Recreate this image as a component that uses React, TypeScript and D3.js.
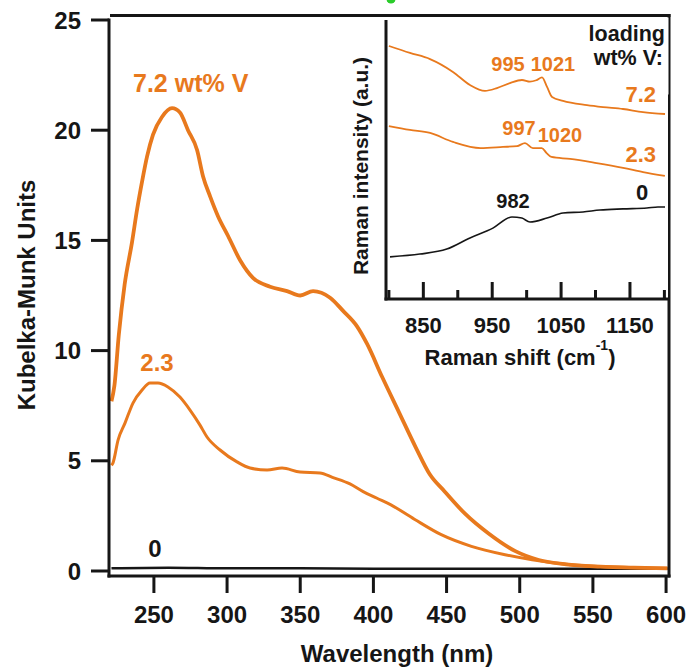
import React from "react";
import * as d3 from "d3";

// ---------- Main chart data (Kubelka-Munk vs wavelength) ----------
const wl72 = [221, 223, 226, 230, 235, 238.5, 242, 245.3, 249.4, 255.5, 262.4, 267.8, 273.3, 279.5, 283.6, 288.4, 293.8, 300.7, 308.9, 317.7, 329.4, 341, 350, 358.8, 370.4, 379.3, 388.8, 395.7, 406, 417.5, 429, 438.4, 448.8, 462.6, 478.7, 497, 513, 531.7, 555, 578, 601];
const km72 = [7.7, 8.4, 10.7, 13.0, 14.9, 16.4, 17.7, 18.8, 19.8, 20.6, 21.0, 20.8, 20.0, 19.1, 17.9, 17.0, 16.1, 15.2, 14.1, 13.3, 12.9, 12.7, 12.5, 12.7, 12.4, 11.8, 11.1, 10.3, 8.8, 7.2, 5.6, 4.4, 3.6, 2.6, 1.7, 0.9, 0.5, 0.3, 0.2, 0.15, 0.12];

const wl23 = [221, 222, 225.5, 230.3, 235.7, 241.9, 247.3, 252.8, 259.6, 267.8, 274.7, 281.5, 286.3, 295.2, 306.8, 315.7, 327.3, 337.6, 349.9, 363.5, 372, 384, 393, 402.5, 412, 428, 446, 467, 490, 508.5, 531.7, 555, 578, 601];
const km23 = [4.8, 4.9, 5.94, 6.72, 7.62, 8.21, 8.53, 8.53, 8.35, 7.89, 7.3, 6.62, 6.08, 5.49, 4.95, 4.67, 4.58, 4.67, 4.49, 4.45, 4.25, 3.95, 3.6, 3.3, 3.0, 2.35, 1.66, 1.12, 0.74, 0.51, 0.31, 0.2, 0.15, 0.13];

const wl0 = [221, 260, 300, 350, 400, 450, 500, 550, 601];
const km0 = [0.12, 0.15, 0.12, 0.13, 0.1, 0.1, 0.1, 0.1, 0.1];

const xTicksMain = [250, 300, 350, 400, 450, 500, 550, 600];
const yTicksMain = [0, 5, 10, 15, 20, 25];

// ---------- Inset data (Raman) ----------
const rs72 = [800, 830.6, 859.7, 893, 917.7, 939.5, 956.9, 975.8, 993.2, 1004.8, 1014, 1022.3, 1029.6, 1036.9, 1052.8, 1087.6, 1110.9, 1139.9, 1168.9, 1200.9];
const ri72 = [90.7, 88.2, 86.0, 81.4, 76.7, 74.6, 75.6, 77.4, 78.5, 77.9, 78.4, 79.4, 76.0, 72.4, 71.0, 69.5, 68.8, 68.1, 67.0, 66.3];

const rs23 = [800, 830.6, 859.7, 893, 933, 965.6, 986, 997.6, 1009, 1021.8, 1029, 1036, 1063, 1101.6, 1140, 1169, 1200.7];
const ri23 = [62.0, 60.6, 59.5, 56.3, 54.1, 54.5, 54.8, 55.9, 54.1, 54.1, 52.3, 50.9, 50.2, 48.7, 47.0, 45.5, 44.1];

const rs0 = [801.6, 845, 884, 917.7, 951, 978.7, 993, 1004.8, 1029.5, 1052.8, 1081.8, 1106.5, 1140, 1174.6, 1190.6, 1200.9];
const ri0 = [15.1, 16.1, 17.9, 21.9, 25.4, 29.4, 29.0, 27.6, 29.0, 30.8, 31.2, 31.9, 32.3, 32.6, 33.0, 33.0];

const xTicksInset = [800, 850, 900, 950, 1000, 1050, 1100, 1150, 1200];
const xTickLabelsInset = [850, 950, 1050, 1150];

const ORANGE = "#E8791D";
const BLACK = "#161616";
const FONT = "'Liberation Sans', Arial, Helvetica, sans-serif";

export default function App() {
  const W = 693, H = 669;
  const x = d3.scaleLinear().domain([220, 602]).range([110, 669]);
  const y = d3.scaleLinear().domain([0, 25]).range([571, 20]);
  const xi = d3.scaleLinear().domain([800, 1200]).range([388.9, 664.4]);
  const yi = d3.scaleLinear().domain([0, 100]).range([299, 20]);

  const mainLine = d3
    .line<[number, number]>()
    .x((d) => x(d[0]))
    .y((d) => y(d[1]))
    .curve(d3.curveMonotoneX);
  const insetLine = d3
    .line<[number, number]>()
    .x((d) => xi(d[0]))
    .y((d) => yi(d[1]))
    .curve(d3.curveMonotoneX);

  const zip = (a: number[], b: number[]) => a.map((v, i) => [v, b[i]] as [number, number]);

  return (
    <svg
      width={W}
      height={H}
      style={{ position: "absolute", left: 0, top: 0, background: "#fff" }}
      fontFamily={FONT}
      fontWeight="bold"
    >
      <rect x={0} y={0} width={W} height={H} fill="#fff" />
      {/* partial green glyph at the top edge */}
      <circle cx={391} cy={-1} r={4.5} fill="#2bcc2b" />

      {/* main curves */}
      <path d={mainLine(zip(wl0, km0)) || ""} fill="none" stroke={BLACK} strokeWidth={2.5} />
      <path d={mainLine(zip(wl23, km23)) || ""} fill="none" stroke={ORANGE} strokeWidth={3} />
      <path d={mainLine(zip(wl72, km72)) || ""} fill="none" stroke={ORANGE} strokeWidth={3.8} />

      {/* main frame and axes */}
      <line x1={110} x2={670.5} y1={15.5} y2={15.5} stroke={BLACK} strokeWidth={3} />
      <line x1={669} x2={669} y1={14} y2={577.5} stroke={BLACK} strokeWidth={3} />
      <line x1={109} x2={109} y1={18.5} y2={577.5} stroke={BLACK} strokeWidth={3} />
      <line x1={107.5} x2={670.5} y1={576} y2={576} stroke={BLACK} strokeWidth={3} />

      {yTicksMain.map((t) => (
        <g key={"yt" + t}>
          <line x1={91} x2={109} y1={y(t)} y2={y(t)} stroke={BLACK} strokeWidth={3} />
          <text x={81} y={y(t)} dy="0.36em" textAnchor="end" fontSize={24} fill={BLACK}>
            {t}
          </text>
        </g>
      ))}
      {xTicksMain.map((t) => (
        <g key={"xt" + t}>
          <line x1={x(t)} x2={x(t)} y1={576} y2={593} stroke={BLACK} strokeWidth={3} />
          <text x={x(t)} y={623} textAnchor="middle" fontSize={24} fill={BLACK}>
            {t}
          </text>
        </g>
      ))}

      <text x={397} y={662} textAnchor="middle" fontSize={24} fill={BLACK}>
        Wavelength (nm)
      </text>
      <text
        transform={`translate(35,295) rotate(-90)`}
        textAnchor="middle"
        fontSize={24}
        fill={BLACK}
      >
        Kubelka-Munk Units
      </text>

      {/* main series labels */}
      <text x={133} y={91.7} fontSize={25} fill={ORANGE}>
        7.2 wt% V
      </text>
      <text x={157} y={370.7} textAnchor="middle" fontSize={24} fill={ORANGE}>
        2.3
      </text>
      <text x={155} y={556.7} textAnchor="middle" fontSize={24} fill={BLACK}>
        0
      </text>

      {/* ---------- inset ---------- */}
      <rect x={386} y={18} width={282} height={281} fill="#fff" />
      <path d={insetLine(zip(rs72, ri72)) || ""} fill="none" stroke={ORANGE} strokeWidth={1.8} />
      <path d={insetLine(zip(rs23, ri23)) || ""} fill="none" stroke={ORANGE} strokeWidth={1.8} />
      <path d={insetLine(zip(rs0, ri0)) || ""} fill="none" stroke={BLACK} strokeWidth={1.6} />

      <line x1={386} x2={386} y1={20} y2={300.5} stroke={BLACK} strokeWidth={3} />
      <line x1={384.5} x2={669} y1={299} y2={299} stroke={BLACK} strokeWidth={3} />
      {xTicksInset.map((t) => {
        const major = xTickLabelsInset.includes(t);
        return (
          <line
            key={"it" + t}
            x1={xi(t)}
            x2={xi(t)}
            y1={299}
            y2={major ? 282 : 290}
            stroke={BLACK}
            strokeWidth={3}
          />
        );
      })}
      {xTickLabelsInset.map((t) => (
        <text key={"il" + t} x={xi(t)} y={333} textAnchor="middle" fontSize={22} fill={BLACK}>
          {t}
        </text>
      ))}
      <text x={520} y={365} textAnchor="middle" fontSize={22} fill={BLACK}>
        Raman shift (cm
        <tspan fontSize={14} dy={-15}>-1</tspan>
        <tspan dy={15}>)</tspan>
      </text>
      <text
        transform={`translate(367.5,166) rotate(-90)`}
        textAnchor="middle"
        fontSize={21}
        fill={BLACK}
      >
        Raman intensity (a.u.)
      </text>

      {/* legend box */}
      <rect x={578} y={17.5} width={90.5} height={77} fill="#fff" />
      <text x={665} y={40.5} textAnchor="end" fontSize={21.5} fill={BLACK}>
        loading
      </text>
      <text x={663} y={65} textAnchor="end" fontSize={21.5} fill={BLACK}>
        wt% V:
      </text>

      {/* inset labels */}
      <text x={508} y={71} textAnchor="middle" fontSize={20} fill={ORANGE}>995</text>
      <text x={553} y={71} textAnchor="middle" fontSize={20} fill={ORANGE}>1021</text>
      <text x={656} y={101.7} textAnchor="end" fontSize={22} fill={ORANGE}>7.2</text>
      <text x={519} y={135} textAnchor="middle" fontSize={20} fill={ORANGE}>997</text>
      <text x={560} y={141.7} textAnchor="middle" fontSize={20} fill={ORANGE}>1020</text>
      <text x={656} y={161.7} textAnchor="end" fontSize={22} fill={ORANGE}>2.3</text>
      <text x={513} y={208} textAnchor="middle" fontSize={20} fill={BLACK}>982</text>
      <text x={642} y={200} textAnchor="middle" fontSize={22} fill={BLACK}>0</text>
    </svg>
  );
}
